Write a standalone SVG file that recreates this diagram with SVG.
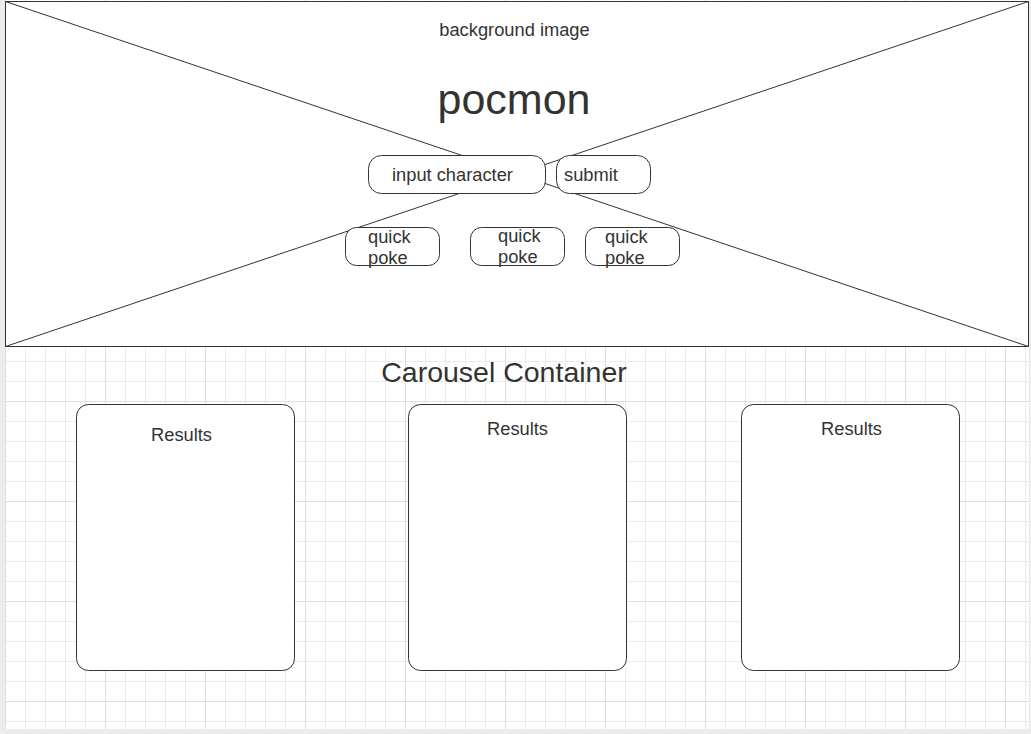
<svg xmlns="http://www.w3.org/2000/svg" width="1031" height="734" viewBox="0 0 1031 734">
  <defs>
    <pattern id="minor" x="5" y="1" width="20" height="20" patternUnits="userSpaceOnUse">
      <path d="M0 0.5 H20 M0.5 0 V20" fill="none" stroke="#ebebeb" stroke-width="1"/>
    </pattern>
    <pattern id="major" x="5" y="1" width="100" height="100" patternUnits="userSpaceOnUse">
      <path d="M0 0.5 H100 M0.5 0 V100" fill="none" stroke="#dedede" stroke-width="1"/>
    </pattern>
  </defs>
  <style>
    .shape { fill: #ffffff; stroke: #333333; stroke-width: 1; }
    .line { stroke: #333333; stroke-width: 1; fill: none; }
    .t { font-family: "Liberation Sans", Arial, sans-serif; fill: #333333; }
    .s { font-size: 18.3px; }
  </style>
  <rect x="0" y="0" width="1031" height="734" fill="#ececec"/>
  <rect x="5" y="0" width="1024" height="729" fill="#ffffff"/>
  <rect x="5" y="0" width="1024" height="729" fill="url(#minor)"/>
  <rect x="5" y="0" width="1024" height="729" fill="url(#major)"/>

  <g id="background-image">
    <rect class="shape" x="5.5" y="1.5" width="1023" height="345"/>
    <g id="connectors">
      <line class="line" x1="5.5" y1="1.5" x2="1028.5" y2="346.5"/>
      <line class="line" x1="5.5" y1="346.5" x2="1028.5" y2="1.5"/>
    </g>
    <text class="t s" x="514.5" y="36" text-anchor="middle">background image</text>
  </g>

  <g id="title">
    <text class="t" x="514" y="114" font-size="43" text-anchor="middle">pocmon</text>
  </g>

  <g id="input-character">
    <rect class="shape" x="368.5" y="155.5" width="177" height="38" rx="13"/>
    <text class="t s" x="392" y="181">input character</text>
  </g>
  <g id="submit">
    <rect class="shape" x="556.5" y="155.5" width="94" height="38" rx="13"/>
    <text class="t s" x="564" y="181">submit</text>
  </g>

  <g id="quick-poke-1">
    <rect class="shape" x="345.5" y="227.5" width="94" height="38" rx="11"/>
    <text class="t s" x="368" y="243">quick</text>
    <text class="t s" x="368" y="264">poke</text>
  </g>
  <g id="quick-poke-2">
    <rect class="shape" x="470.5" y="227.5" width="94" height="38" rx="11"/>
    <text class="t s" x="498" y="242">quick</text>
    <text class="t s" x="498" y="263">poke</text>
  </g>
  <g id="quick-poke-3">
    <rect class="shape" x="585.5" y="227.5" width="94" height="38" rx="11"/>
    <text class="t s" x="605" y="243">quick</text>
    <text class="t s" x="605" y="264">poke</text>
  </g>

  <g id="carousel-container">
    <text class="t" x="504" y="382" font-size="28.5" text-anchor="middle">Carousel Container</text>
  </g>

  <g id="results-1">
    <rect class="shape" x="76.5" y="404.5" width="218" height="266" rx="12"/>
    <text class="t s" x="181.5" y="441" text-anchor="middle">Results</text>
  </g>
  <g id="results-2">
    <rect class="shape" x="408.5" y="404.5" width="218" height="266" rx="12"/>
    <text class="t s" x="517.5" y="435" text-anchor="middle">Results</text>
  </g>
  <g id="results-3">
    <rect class="shape" x="741.5" y="404.5" width="218" height="266" rx="12"/>
    <text class="t s" x="851.5" y="435" text-anchor="middle">Results</text>
  </g>
</svg>
